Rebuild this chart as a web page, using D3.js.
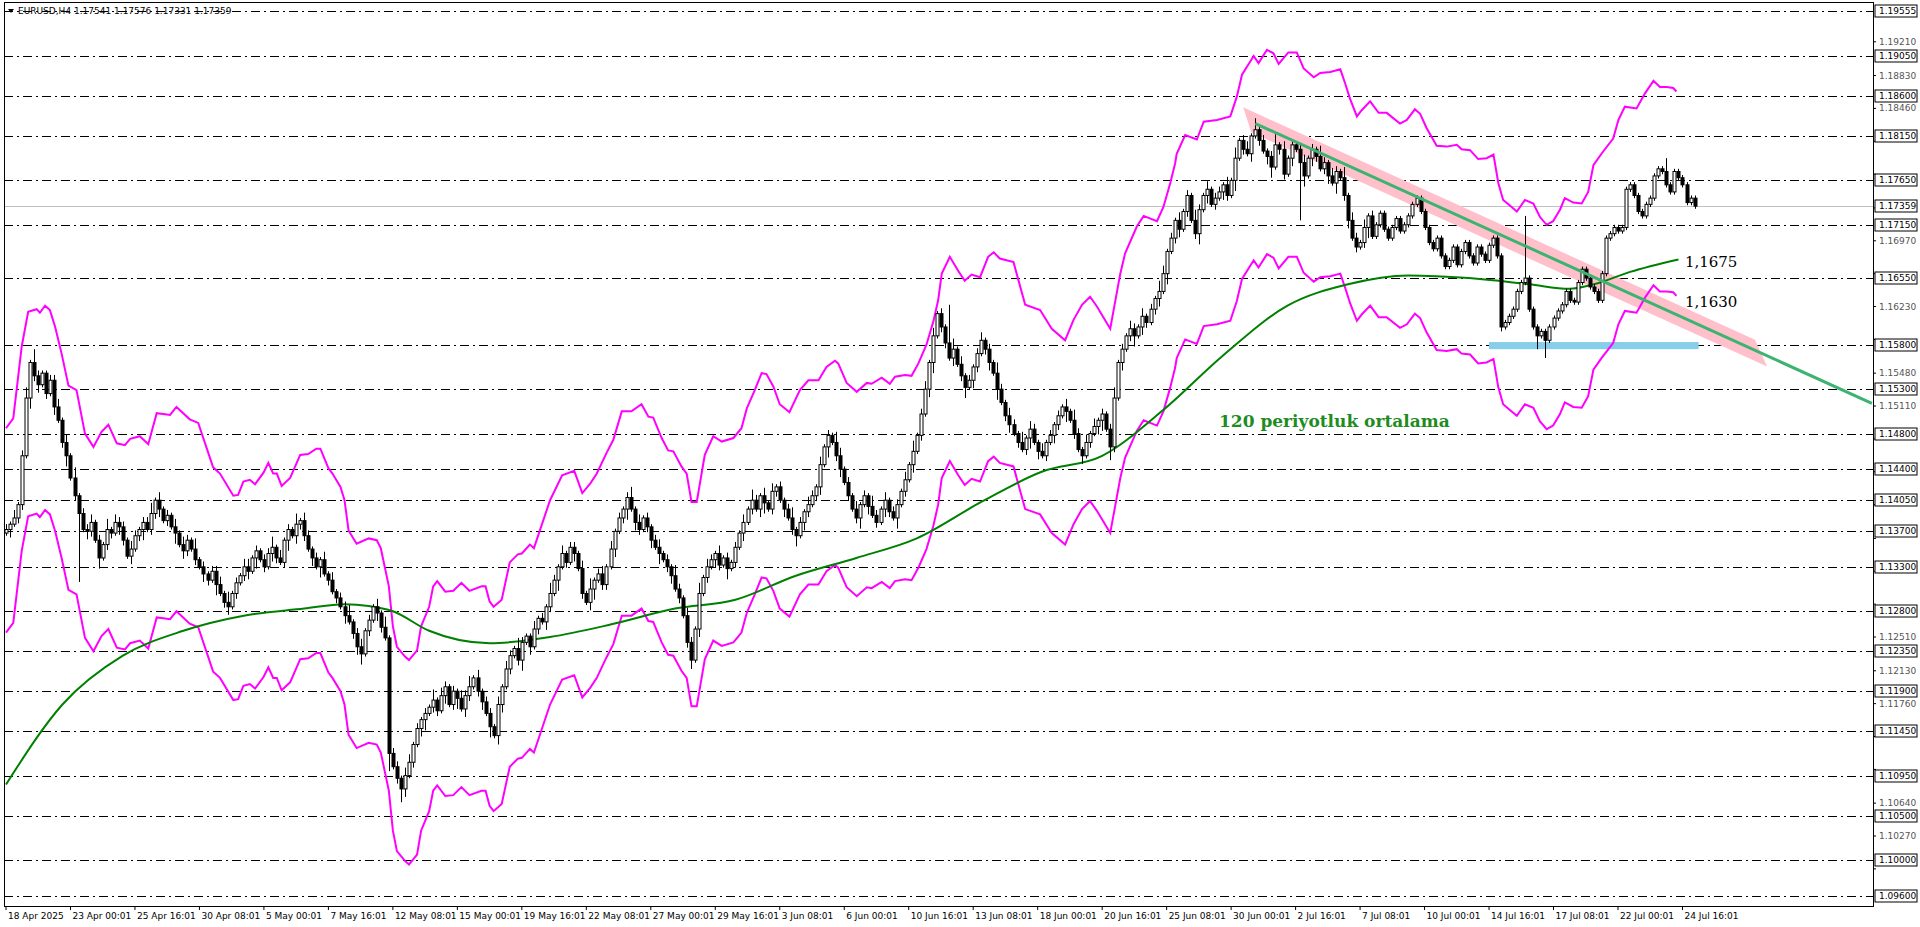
<!DOCTYPE html>
<html>
<head>
<meta charset="utf-8">
<script src="https://cdn.jsdelivr.net/npm/d3@7"></script>
<style>
  body { margin: 0; background: #fff; }
  svg { display: block; font-family: "DejaVu Sans", Tahoma, sans-serif; }
</style>
</head>
<body>
<svg id="chart" width="1920" height="927"></svg>
<script>
//////
// data (prices in pips above 1.1000, i.e. 372 -> 1.1372)
//////
const closes = [
  372,378,385,400,455,520,560,545,535,548, 525,540,510,495,470,455,430,410,390,372,
  370,380,360,340,355,372,368,380,375,360, 342,350,365,372,380,372,390,405,395,382,
  388,375,368,355,348,360,350,338,330,322, 315,325,310,300,290,285,300,312,320,330,
  325,340,348,338,330,345,352,340,335,360, 372,365,378,382,365,350,340,330,338,322,
  315,302,295,285,275,268,255,240,232,258, 270,285,278,262,250,120,105,92,80,95,
  110,130,148,158,165,172,180,168,185,195, 175,190,182,170,185,195,205,190,178,165,
  150,140,175,195,215,230,238,225,245,252, 240,260,272,268,285,300,315,330,345,335,
  352,345,328,300,290,305,315,322,310,330, 350,370,385,395,408,395,380,372,385,375,
  360,352,345,338,330,320,305,295,275,245, 225,260,300,318,330,338,345,332,340,328,
  335,352,368,380,395,405,395,410,402,395, 415,420,405,395,385,372,365,380,392,400,
  410,420,445,465,478,470,455,440,425,410, 395,385,400,410,398,388,380,395,405,392,
  385,400,415,428,445,460,478,502,530,560, 590,615,600,582,565,575,558,545,532,540,
  555,570,585,575,560,548,530,515,500,490, 480,470,462,475,485,470,460,455,470,478,
  490,500,510,505,495,480,462,455,470,480, 488,495,502,485,465,520,560,575,590,598,
  590,600,612,605,620,632,640,660,685,700, 720,710,730,748,720,705,732,748,755,738,
  745,752,760,748,765,790,810,800,795,815, 822,810,798,792,780,805,800,772,790,805,
  800,785,770,790,800,792,778,785,770,762, 775,768,748,720,700,690,695,712,725,702,
  715,728,710,700,712,722,708,715,725,738, 745,730,712,695,688,700,680,668,675,690,
  670,685,695,680,672,690,682,675,692,700, 680,600,605,612,620,640,650,655,620,600,
  590,595,585,600,610,618,625,640,630,628, 650,665,655,645,640,630,660,700,705,712,
  708,712,755,760,748,730,725,738,745,770, 778,775,760,752,775,768,760,740,745,736
];
// wick lengths beyond the body, in units of 3 pips
const wickUp = "2131241321122313141223121413221321224131213132141212231412133121224131214132121313122412312131412213312121413212132413122131321421131214213122131412313121241312123121421321413213121213142131312124121321312143121312142131221314123131212413121231214213214132131212131421313121241213213121431213121421312213141231312124131212312142132141321312";
const wickDn = "1312214231213124121132141221321312412231214132121321412312123141213212413221314121213123412132141213121341221312413212314123121241312132141213121341221312413212314123121241312132141213121341221312413212314123121241312132141213121341221312413212314123121241312132141213121341221312413212314123121241312132141213121341221312413212314123121241";
// [bar, high, low] for the long wicks
const spikes = [[7,575,null],[18,null,313],[95,null,100],[98,null,65],[122,null,130],[170,null,215],
  [234,625,null],[274,null,450],[310,835,null],[321,null,720],[371,null,595],[377,725,null],
  [380,null,575],[382,null,565],[412,790,null]];

// 120 period average [bar, value]
const maPts = [[0,85],[14,175],[29,230],[44,258],[59,275],[74,283],[84,288],[90,286],[96,280],[105,258],
  [120,244],[135,251],[150,265],[166,283],[181,293],[196,320],[211,340],[226,362],[242,403],[257,437],
  [272,455],[287,506],[302,568],[318,624],[333,648],[348,658],[363,655],[378,648],[388,643],[394,648],
  [403,662],[415,676]];

// upper envelope [bar, value]; the lower one sits envelopeGap below it
const upperPts = [[0,486],[1.8,497],[3.9,578],[5.5,617],[7.6,620],[8.4,616],[9.7,624],[10.9,619],[12.2,600],
  [13.8,570],[15.5,534],[17.5,529],[19.6,480],[21.7,465],[23.7,482],[25.4,490],[27.5,469],[29.5,467],
  [30.8,474],[33.2,477],[35.3,468],[37.4,503],[39,502],[40.7,501],[42.3,510],[45.6,496],[47.7,492],
  [51.4,442],[53.1,435],[56.4,410],[57.6,411],[58.9,426],[60.5,428],[61.8,423],[63.9,436],[65.1,447],
  [66.3,435],[67.2,435],[68.4,421],[70.5,430],[73,456],[75,457],[77,463],[78,463],[80,441],[81,435],
  [83,420],[84,405],[85,371],[87,356],[90,362],[92,360],[93,351],[95,308],[96,263],[97,240],[99,229],
  [100,225],[102,236],[103,263],[105,285],[106,308],[107,314],[109,302],[111,303],[113,312],[115,303],
  [118,308],[119,308],[120,291],[121,285],[123,293],[125,335],[127,344],[128,345],[130,355],[131,351],
  [135,405],[138,433],[141,438],[143,413],[145,424],[146.6,435],[149,458],[150.7,473],[152.8,505],
  [155.2,505],[157.7,513],[159.4,499],[160.6,498],[162.7,475],[164.3,461],[165.6,460],[167.6,443],
  [168.9,435],[170.1,403],[171.4,403],[173.4,456],[175.5,477],[177.6,471],[180.5,475],[182.5,486],
  [183.8,508],[185.8,529],[187.5,548],[188.7,547],[190.4,533],[192,513],[194.4,504],[197,529],
  [199.1,540],[201.6,540],[203.6,555],[205.7,562],[206.5,559],[208.6,537],[211.1,527],[213.6,537],
  [214.8,536],[217.3,543],[219.3,536],[220.6,544],[223.1,546],[224.7,545],[226.4,559],[228.4,580],
  [230.1,606],[231.3,630],[232.2,660],[234.2,679],[236.3,663],[237.9,652],[239.6,659],[241.7,656],
  [243.7,679],[245.1,684],[246.6,677],[250,673],[251.2,653],[252.9,625],[256.6,619],[259.5,598],
  [262.8,585],[264.9,608],[267,625],[269,634],[270.7,623],[274,598],[276.5,660],[277.7,683],[280.6,713],
  [282.3,725],[285.6,719],[287.2,735],[288.9,762],[290.1,784],[290.5,795],[292.6,816],[295.5,811],
  [297.2,831],[300.5,833],[303.8,837],[305.4,859],[306.7,884],[309.6,905],[310.8,897],[312.9,912],
  [314.5,908],[315.8,896],[318.2,909],[320.3,909],[322,891],[324.5,881],[326.1,886],[328.6,887],
  [331.1,890],[332.3,874],[333.5,857],[335.2,837],[336.4,844],[338.5,854],[340.6,841],[342.6,841],
  [345.9,829],[347.6,833],[349.6,845],[350.9,840],[352.5,824],[355,804],[357.5,803],[360,805],
  [361.2,800],[363.3,799],[365.3,789],[367.4,790],[369.1,794],[370.3,762],[371.5,743],[372.8,738],
  [374.9,730],[376.9,743],[379,739],[380.6,724],[382.3,715],[383.9,719],[385.6,732],[386.8,745],
  [388.9,740],[391,739],[392.6,752],[393.9,782],[395.9,795],[398.8,812],[400.1,833],[401.7,848],
  [404.6,846],[406.7,863],[408.8,877],[410.4,870],[412.1,870],[413.7,869],[414.5,865]];
const envelopeGap = 230;

const levels = [1.19555,1.1905,1.1860,1.1815,1.1765,1.1715,1.1655,1.1580,1.1530,1.1480,1.1440,
  1.1405,1.1370,1.1330,1.1280,1.1235,1.1190,1.1145,1.1095,1.1050,1.1000,1.0960];
const gridTicks = [1.19210,1.18830,1.18460,1.18090,1.17720,1.17340,1.16970,1.16600,1.16230,1.15860,
  1.15480,1.15110,1.14740,1.14370,1.14000,1.13620,1.13250,1.12880,1.12510,1.12130,1.11760,1.11390,
  1.11020,1.10640,1.10270,1.09900];
const lastPrice = 1.17359;
const timeLabels = ["18 Apr 2025","23 Apr 00:01","25 Apr 16:01","30 Apr 08:01","5 May 00:01","7 May 16:01",
  "12 May 08:01","15 May 00:01","19 May 16:01","22 May 08:01","27 May 00:01","29 May 16:01","3 Jun 08:01",
  "6 Jun 00:01","10 Jun 16:01","13 Jun 08:01","18 Jun 00:01","20 Jun 16:01","25 Jun 08:01","30 Jun 00:01",
  "2 Jul 16:01","7 Jul 08:01","10 Jul 00:01","14 Jul 16:01","17 Jul 08:01","22 Jul 00:01","24 Jul 16:01"];
const barsPerLabel = 16;

// trend channel [bar, price] and support zone
const trendPts = [[310,1.1829],[463,1.1514]];
const channelEnd = 434;
const channelHalf = 0.0012;
const zone = {from: 368, to: 420, top: 1.1583, bottom: 1.1575};

//////
// layout
//////
const plotL = 4, plotR = 1873, plotT = 2, plotB = 906;
const px = v => 1.1 + v / 10000;

const x = d3.scaleLinear().domain([0, 419]).range([6, 6 + 4.03 * 419]);
const y = d3.scaleLinear().domain([1.1000, 1.1905]).range([860, 56]);

const svg = d3.select("#chart");
svg.append("defs").append("clipPath").attr("id", "clip")
  .append("rect").attr("x", plotL).attr("y", plotT).attr("width", plotR - plotL).attr("height", plotB - plotT);
const plot = svg.append("g").attr("clip-path", "url(#clip)");

// frame
svg.append("rect").attr("x", plotL + 0.5).attr("y", plotT + 0.5).attr("width", plotR - plotL).attr("height", plotB - plotT)
  .attr("fill", "none").attr("stroke", "#000");

// level lines
plot.selectAll(".lvl").data(levels).join("line")
  .attr("x1", plotL).attr("x2", plotR).attr("y1", d => Math.round(y(d)) + 0.5).attr("y2", d => Math.round(y(d)) + 0.5)
  .attr("stroke", "#000").attr("stroke-width", 1).attr("stroke-dasharray", "9,4,2,4");

// last price line
plot.append("line").attr("x1", plotL).attr("x2", plotR)
  .attr("y1", Math.round(y(lastPrice)) + 0.5).attr("y2", Math.round(y(lastPrice)) + 0.5)
  .attr("stroke", "#c0c0c0");

// trend channel
const tSlope = (trendPts[1][1] - trendPts[0][1]) / (trendPts[1][0] - trendPts[0][0]);
const tAt = b => trendPts[0][1] + tSlope * (b - trendPts[0][0]);
const b0 = trendPts[0][0] - 3;
plot.append("path")
  .attr("d", d3.line()([[x(b0), y(tAt(b0) + channelHalf)], [x(channelEnd), y(tAt(channelEnd) + channelHalf)],
    [x(channelEnd + 3), y(tAt(channelEnd + 3) - channelHalf)], [x(b0 + 2), y(tAt(b0 + 2) - channelHalf)]]) + "Z")
  .attr("fill", "#ffc0cb");

// support zone
plot.append("rect").attr("x", x(zone.from)).attr("width", x(zone.to) - x(zone.from))
  .attr("y", y(zone.top)).attr("height", y(zone.bottom) - y(zone.top)).attr("fill", "#87ceeb");

// envelopes and moving average
const jag = d3.line().x(d => x(d[0])).y(d => y(px(d[1])));
const smooth = d3.line().x(d => x(d[0])).y(d => y(px(d[1]))).curve(d3.curveMonotoneX);
plot.append("path").attr("d", jag(upperPts)).attr("fill", "none").attr("stroke", "#ff00ff").attr("stroke-width", 2);
plot.append("path").attr("d", jag(upperPts.map(d => [d[0], d[1] - envelopeGap])))
  .attr("fill", "none").attr("stroke", "#ff00ff").attr("stroke-width", 2);
plot.append("path").attr("d", smooth(maPts)).attr("fill", "none").attr("stroke", "#008000").attr("stroke-width", 2);

// candles
const candles = closes.map((c, i) => {
  const o = i === 0 ? c - 4 : closes[i - 1];
  let hi = Math.max(o, c) + 3 * (+wickUp[i] || 1);
  let lo = Math.min(o, c) - 3 * (+wickDn[i] || 1);
  const s = spikes.find(d => d[0] === i);
  if (s) { if (s[1] !== null) hi = s[1]; if (s[2] !== null) lo = s[2]; }
  return {i, o: px(o), c: px(c), h: px(hi), l: px(lo)};
});
const cg = plot.append("g");
cg.selectAll("line").data(candles).join("line")
  .attr("x1", d => Math.round(x(d.i)) + 0.5).attr("x2", d => Math.round(x(d.i)) + 0.5)
  .attr("y1", d => y(d.h)).attr("y2", d => y(d.l)).attr("stroke", "#000");
cg.selectAll("rect").data(candles).join("rect")
  .attr("x", d => Math.round(x(d.i)) - 1).attr("width", 3)
  .attr("y", d => y(Math.max(d.o, d.c))).attr("height", d => Math.max(1, Math.abs(y(d.o) - y(d.c))))
  .attr("fill", d => d.c >= d.o ? "#fff" : "#000").attr("stroke", "#000").attr("stroke-width", 1);

// trend line
plot.append("line")
  .attr("x1", x(trendPts[0][0])).attr("y1", y(trendPts[0][1]))
  .attr("x2", x(trendPts[1][0])).attr("y2", y(trendPts[1][1]))
  .attr("stroke", "#3cb371").attr("stroke-width", 3);

// annotations
plot.append("text").attr("x", x(301)).attr("y", y(1.1487)).text("120 periyotluk ortalama")
  .attr("font-family", "DejaVu Serif, serif").attr("font-weight", "bold").attr("font-size", 17).attr("fill", "#1e8c1e");
plot.append("text").attr("x", x(416.6)).attr("y", y(1.1668)).text("1,1675")
  .attr("font-family", "DejaVu Serif, serif").attr("font-size", 15).attr("fill", "#000");
plot.append("text").attr("x", x(416.6)).attr("y", y(1.1622)).text("1,1630")
  .attr("font-family", "DejaVu Serif, serif").attr("font-size", 15).attr("fill", "#000");

// header
svg.append("path").attr("d", "M8,9 L14,9 L11,13 Z").attr("fill", "#000");
svg.append("text").attr("x", 18).attr("y", 14).attr("font-size", 9)
  .text("EURUSD,H4  1.17541 1.17576 1.17331 1.17359");

// price axis
const ax = svg.append("g").attr("font-size", 9);
const boxed = levels.concat([lastPrice]);
ax.selectAll(".gt").data(gridTicks.filter(t => boxed.every(b => Math.abs(y(b) - y(t)) > 10))).join("text")
  .attr("x", plotR + 6).attr("y", d => y(d) + 3).attr("fill", "#555").text(d => d.toFixed(5));
ax.selectAll(".gtk").data(gridTicks).join("line")
  .attr("x1", plotR).attr("x2", plotR + 3).attr("y1", d => y(d)).attr("y2", d => y(d)).attr("stroke", "#000");
const lb = ax.selectAll(".lb").data(boxed).join("g")
  .attr("transform", d => `translate(${plotR + 2},${Math.round(y(d)) - 6})`);
lb.append("rect").attr("width", 42).attr("height", 12).attr("fill", "#fff").attr("stroke", "#000");
lb.append("text").attr("x", 4).attr("y", 9).attr("fill", "#000").text(d => d.toFixed(5));

// time axis
const tx = svg.append("g").attr("font-size", 9);
tx.selectAll("line").data(timeLabels).join("line")
  .attr("x1", (d, k) => x(k * barsPerLabel)).attr("x2", (d, k) => x(k * barsPerLabel))
  .attr("y1", plotB).attr("y2", plotB + 4).attr("stroke", "#000");
tx.selectAll("text").data(timeLabels).join("text")
  .attr("x", (d, k) => x(k * barsPerLabel) + 2).attr("y", plotB + 13).text(d => d);
</script>
</body>
</html>
